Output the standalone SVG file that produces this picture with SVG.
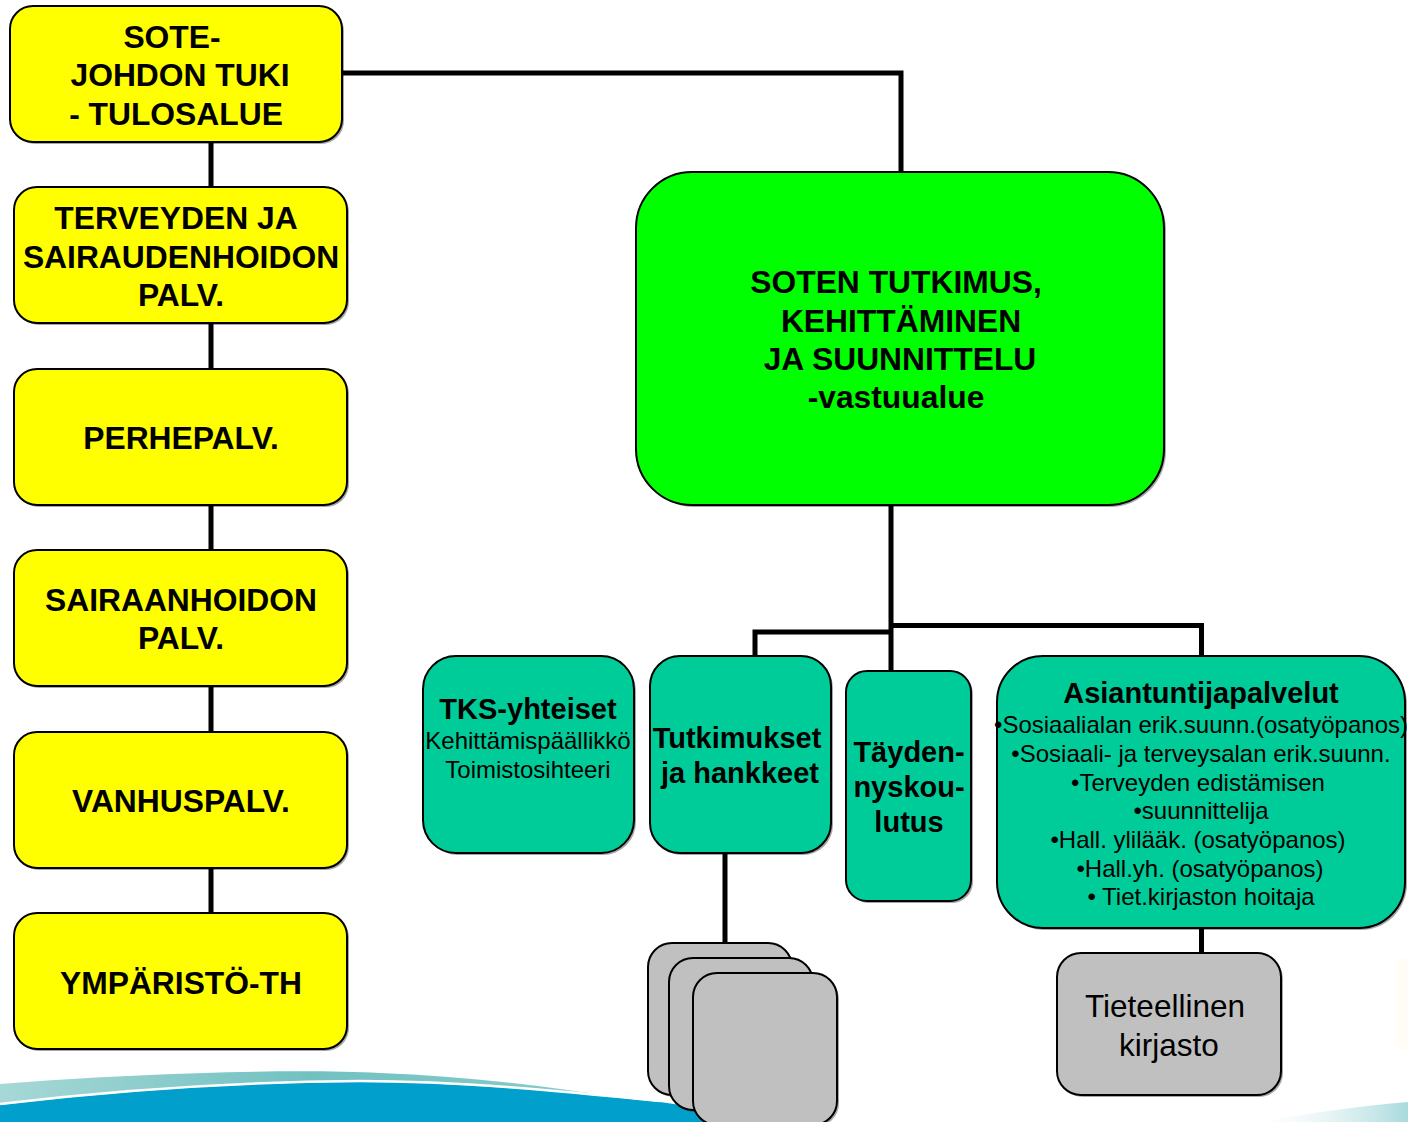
<svg xmlns="http://www.w3.org/2000/svg" width="1408" height="1122" viewBox="0 0 1408 1122">
<defs>
<linearGradient id="tealG" x1="0" y1="0" x2="1" y2="0">
<stop offset="0" stop-color="#A6D8D6"/>
<stop offset="0.5" stop-color="#72C1C1"/>
<stop offset="1" stop-color="#8ACCCB"/>
</linearGradient>
<linearGradient id="rightG" x1="0" y1="0" x2="1" y2="0">
<stop offset="0" stop-color="#E6F4F5" stop-opacity="0"/>
<stop offset="1" stop-color="#A9DADC"/>
</linearGradient>
<style>
.b{stroke:#000;stroke-width:2}
.sh{fill:#000;opacity:0.35}
.y{fill:#FFFF00}
.g{fill:#00FF00}
.t{fill:#00CC99}
.gr{fill:#C0C0C0}
.c{fill:none;stroke:#000;stroke-width:5}
text{font-family:"Liberation Sans",Arial,sans-serif;fill:#000;text-anchor:middle}
.bt{font-weight:bold;font-size:31.8px}
.mt{font-weight:bold;font-size:29px}
.rt{font-size:24px}
.lt{font-size:31.5px}
</style>
</defs>
<rect width="1408" height="1122" fill="#fff"/>
<g id="background">
<path d="M0,1084 C150,1072 300,1069 380,1073 C460,1076 540,1085 620,1098 L620,1122 L0,1122 Z" fill="url(#tealG)"/>
<path d="M0,1105 C100,1093 220,1083 360,1082 C460,1082 560,1092 660,1102 C700,1107 740,1115 780,1122 L0,1122 Z" fill="#009FCC"/>
<path d="M0,1104 C100,1092 220,1082 360,1081 C460,1081 560,1091 660,1101" fill="none" stroke="#fff" stroke-width="2.5"/>
<path d="M1260,1122 C1310,1113 1360,1106 1408,1102 L1408,1122 Z" fill="url(#rightG)"/>
<rect x="1396" y="958" width="12" height="92" fill="#FFFBEE" opacity="0.5"/>
</g>
<g id="connectors">
<path class="c" d="M211,142 V913"/>
<path class="c" d="M342,73 H901 V172"/>
<path class="c" d="M891,505 V671"/>
<path class="c" d="M891,632 H755 V656"/>
<path class="c" d="M891,625.5 H1201.5 V656"/>
<path class="c" d="M725,853 V943"/>
<path class="c" d="M1201.5,928 V953"/>
</g>
<g id="n-sote">
<rect class="sh" x="12" y="8" width="332" height="136" rx="23"/>
<rect class="y b" x="10" y="6" width="332" height="136" rx="23"/>
<text class="bt"><tspan x="172" y="48">SOTE-</tspan><tspan x="180" y="86">JOHDON TUKI</tspan><tspan x="176" y="125">- TULOSALUE</tspan></text>
</g>
<g id="n-terveyden">
<rect class="sh" x="16" y="189" width="333" height="136" rx="23"/>
<rect class="y b" x="14" y="187" width="333" height="136" rx="23"/>
<text class="bt"><tspan x="176" y="229">TERVEYDEN JA</tspan><tspan x="181" y="268">SAIRAUDENHOIDON</tspan><tspan x="181" y="306">PALV.</tspan></text>
</g>
<g id="n-perhe">
<rect class="sh" x="16" y="371" width="333" height="136" rx="23"/>
<rect class="y b" x="14" y="369" width="333" height="136" rx="23"/>
<text class="bt" x="181" y="449">PERHEPALV.</text>
</g>
<g id="n-sairaanhoidon">
<rect class="sh" x="16" y="552" width="333" height="136" rx="23"/>
<rect class="y b" x="14" y="550" width="333" height="136" rx="23"/>
<text class="bt"><tspan x="181" y="611">SAIRAANHOIDON</tspan><tspan x="181" y="649">PALV.</tspan></text>
</g>
<g id="n-vanhus">
<rect class="sh" x="16" y="734" width="333" height="136" rx="23"/>
<rect class="y b" x="14" y="732" width="333" height="136" rx="23"/>
<text class="bt" x="181" y="812">VANHUSPALV.</text>
</g>
<g id="n-ymparisto">
<rect class="sh" x="16" y="915" width="333" height="136" rx="23"/>
<rect class="y b" x="14" y="913" width="333" height="136" rx="23"/>
<text class="bt" x="181" y="994">YMPÄRISTÖ-TH</text>
</g>
<g id="n-soten">
<rect class="sh" x="638" y="174" width="528" height="333" rx="56"/>
<rect class="g b" x="636" y="172" width="528" height="333" rx="56"/>
<text class="bt"><tspan x="896" y="293">SOTEN TUTKIMUS,</tspan><tspan x="901" y="332">KEHITTÄMINEN</tspan><tspan x="900" y="370">JA SUUNNITTELU</tspan><tspan x="896" y="408">-vastuualue</tspan></text>
</g>
<g id="n-tks">
<rect class="sh" x="425" y="658" width="211" height="197" rx="33"/>
<rect class="t b" x="423" y="656" width="211" height="197" rx="33"/>
<text class="mt" x="528" y="719">TKS-yhteiset</text>
<text class="rt"><tspan x="528" y="749">Kehittämispäällikkö</tspan><tspan x="528" y="778">Toimistosihteeri</tspan></text>
</g>
<g id="n-tutkimukset">
<rect class="sh" x="652" y="658" width="181" height="197" rx="30"/>
<rect class="t b" x="650" y="656" width="181" height="197" rx="30"/>
<text class="mt"><tspan x="737" y="748">Tutkimukset</tspan><tspan x="740" y="783">ja hankkeet</tspan></text>
</g>
<g id="n-tayden">
<rect class="sh" x="848" y="673" width="125" height="230" rx="21"/>
<rect class="t b" x="846" y="671" width="125" height="230" rx="21"/>
<text class="mt"><tspan x="909" y="762">Täyden-</tspan><tspan x="909" y="797">nyskou-</tspan><tspan x="909" y="832">lutus</tspan></text>
</g>
<g id="n-asiantuntija">
<rect class="sh" x="999" y="658" width="408" height="272" rx="46"/>
<rect class="t b" x="997" y="656" width="408" height="272" rx="46"/>
<text class="mt" x="1201" y="703">Asiantuntijapalvelut</text>
<text class="rt"><tspan x="1201" y="733">•Sosiaalialan erik.suunn.(osatyöpanos)</tspan><tspan x="1201" y="762">•Sosiaali- ja terveysalan erik.suunn.</tspan><tspan x="1198" y="791">•Terveyden edistämisen</tspan><tspan x="1201" y="819">•suunnittelija</tspan><tspan x="1198" y="848">•Hall. ylilääk. (osatyöpanos)</tspan><tspan x="1200" y="877">•Hall.yh. (osatyöpanos)</tspan><tspan x="1201" y="905">• Tiet.kirjaston hoitaja</tspan></text>
</g>
<g id="n-hankkeet-stack">
<rect class="sh" x="650" y="945" width="144" height="152" rx="24"/>
<rect class="gr b" x="648" y="943" width="144" height="152" rx="24"/>
<rect class="sh" x="671" y="960" width="144" height="152" rx="24"/>
<rect class="gr b" x="669" y="958" width="144" height="152" rx="24"/>
<rect class="sh" x="695" y="975" width="144" height="152" rx="24"/>
<rect class="gr b" x="693" y="973" width="144" height="152" rx="24"/>
</g>
<g id="n-kirjasto">
<rect class="sh" x="1059" y="955" width="224" height="142" rx="24"/>
<rect class="gr b" x="1057" y="953" width="224" height="142" rx="24"/>
<text class="lt"><tspan x="1165" y="1017">Tieteellinen</tspan><tspan x="1169" y="1056">kirjasto</tspan></text>
</g>
</svg>
